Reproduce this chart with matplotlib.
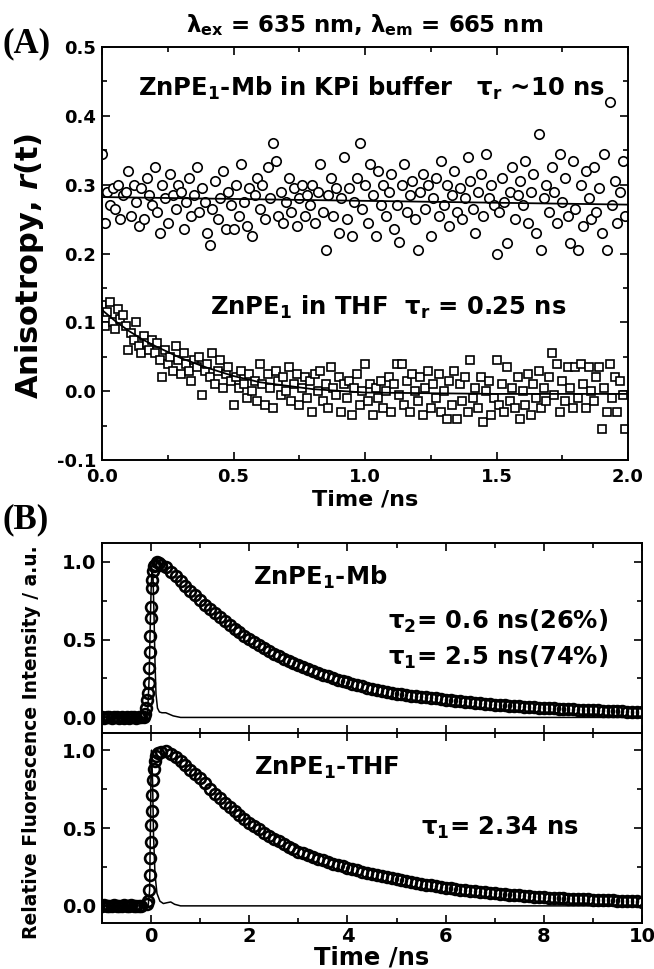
import numpy as np
import matplotlib
matplotlib.use("Agg")
import matplotlib.pyplot as plt
from matplotlib.ticker import MultipleLocator

plt.rcParams['font.family'] = ['DejaVu Sans']
plt.rcParams['font.weight'] = 'bold'
plt.rcParams['mathtext.fontset'] = 'custom'
plt.rcParams['mathtext.bf'] = 'DejaVu Sans:bold'
plt.rcParams['mathtext.rm'] = 'DejaVu Sans:bold'
plt.rcParams['mathtext.it'] = 'DejaVu Sans:bold:italic'
plt.rcParams['mathtext.default'] = 'bf'

# -----------------------------
# Panel A: anisotropy data (t = 0 .. 1.99 ns, 0.01 ns step)
# -----------------------------
aniso_mb = [
    0.345, 0.245, 0.290, 0.270, 0.295, 0.265, 0.300, 0.250, 0.285, 0.290,
    0.320, 0.255, 0.300, 0.275, 0.240, 0.295, 0.250, 0.310, 0.285, 0.270,
    0.325, 0.260, 0.230, 0.300, 0.280, 0.245, 0.315, 0.285, 0.265, 0.300,
    0.290, 0.235, 0.275, 0.310, 0.255, 0.285, 0.325, 0.260, 0.295, 0.275,
    0.230, 0.212, 0.265, 0.305, 0.250, 0.280, 0.320, 0.235, 0.290, 0.270,
    0.235, 0.300, 0.255, 0.330, 0.275, 0.240, 0.295, 0.225, 0.285, 0.310,
    0.265, 0.300, 0.250, 0.325, 0.280, 0.360, 0.335, 0.255, 0.290, 0.245,
    0.275, 0.310, 0.260, 0.295, 0.240, 0.280, 0.300, 0.255, 0.285, 0.270,
    0.300, 0.245, 0.290, 0.330, 0.260, 0.205, 0.285, 0.310, 0.255, 0.295,
    0.230, 0.280, 0.340, 0.250, 0.295, 0.225, 0.275, 0.310, 0.360, 0.265,
    0.300, 0.245, 0.330, 0.285, 0.225, 0.320, 0.270, 0.300, 0.255, 0.290,
    0.315, 0.235, 0.270, 0.216, 0.300, 0.330, 0.260, 0.285, 0.305, 0.250,
    0.205, 0.290, 0.315, 0.265, 0.300, 0.225, 0.280, 0.310, 0.255, 0.335,
    0.270, 0.300, 0.240, 0.285, 0.320, 0.260, 0.295, 0.250, 0.280, 0.340,
    0.305, 0.265, 0.230, 0.290, 0.315, 0.255, 0.345, 0.280, 0.300, 0.270,
    0.200, 0.260, 0.310, 0.275, 0.215, 0.290, 0.325, 0.250, 0.285, 0.305,
    0.270, 0.335, 0.245, 0.290, 0.315, 0.230, 0.374, 0.205, 0.280, 0.300,
    0.260, 0.325, 0.290, 0.245, 0.345, 0.275, 0.310, 0.255, 0.215, 0.335,
    0.265, 0.205, 0.300, 0.240, 0.320, 0.280, 0.250, 0.325, 0.260, 0.295,
    0.230, 0.345, 0.205, 0.420, 0.270, 0.305, 0.245, 0.290, 0.335, 0.255,
]
aniso_thf = [
    0.125, 0.095, 0.115, 0.130, 0.100, 0.090, 0.120, 0.105, 0.110, 0.095,
    0.060, 0.085, 0.075, 0.100, 0.065, 0.055, 0.080, 0.070, 0.060, 0.075,
    0.055, 0.070, 0.045, 0.020, 0.060, 0.040, 0.050, 0.030, 0.065, 0.045,
    0.025, 0.055, 0.040, 0.030, 0.015, 0.045, 0.035, 0.050, -0.005, 0.030,
    0.040, 0.020, 0.055, 0.010, 0.030, 0.045, 0.005, 0.025, 0.035, 0.015,
    -0.020, 0.020, 0.005, 0.030, 0.010, -0.010, 0.025, 0.000, 0.015, -0.015,
    0.040, 0.010, -0.020, 0.025, 0.005, -0.025, 0.030, 0.015, -0.005, 0.020,
    0.000, 0.035, -0.015, 0.010, 0.025, -0.020, 0.005, 0.020, -0.010, 0.015,
    -0.030, 0.025, 0.000, 0.030, -0.015, 0.010, -0.025, 0.035, 0.005, -0.005,
    0.020, -0.030, 0.010, -0.010, 0.015, -0.035, 0.005, 0.025, -0.020, 0.000,
    0.040, -0.015, 0.010, -0.035, 0.005, -0.010, 0.015, -0.025, 0.000, 0.020,
    -0.030, 0.010, 0.040, -0.005, 0.040, -0.020, 0.015, -0.030, 0.025, 0.000,
    -0.015, 0.020, -0.035, 0.005, 0.030, -0.025, 0.010, -0.010, 0.025, -0.030,
    0.000, -0.040, 0.015, -0.020, 0.030, -0.040, 0.010, -0.015, 0.020, -0.030,
    0.045, -0.010, 0.005, -0.025, 0.020, -0.045, 0.000, 0.015, -0.035, -0.010,
    0.045, -0.020, 0.010, -0.030, 0.035, -0.015, 0.005, -0.025, 0.020, -0.040,
    0.000, -0.020, 0.025, -0.035, 0.010, -0.010, 0.030, -0.025, 0.005, -0.015,
    0.020, 0.055, -0.005, 0.040, -0.030, 0.015, -0.015, 0.035, 0.005, -0.025,
    0.035, -0.010, 0.040, 0.010, -0.025, 0.035, 0.000, -0.015, 0.020, 0.035,
    -0.055, 0.005, -0.030, 0.040, -0.010, 0.020, -0.030, 0.015, -0.005, -0.055,
]
t_aniso = np.arange(len(aniso_mb)) * 0.01

# fitted curves, panel A
fit_mb_t = [0.0, 2.0]
fit_mb_r = [0.282, 0.271]
fit_thf_t = [0.0, 0.05, 0.1, 0.15, 0.2, 0.3, 0.4, 0.5, 0.6, 0.8, 1.0, 1.5, 2.0]
fit_thf_r = [0.118, 0.102, 0.088, 0.076, 0.066, 0.048, 0.034, 0.022, 0.013, 0.003, -0.002, -0.004, -0.004]

# -----------------------------
# Panel B: fluorescence decays
# -----------------------------
base_vals_mb = [0.004, -0.003, 0.002, 0.000, -0.004, 0.003, 0.001, -0.002, 0.004,
                -0.001, 0.002, -0.003, 0.000, 0.003, -0.002, 0.001, 0.002]
base_vals_thf = [-0.002, 0.003, 0.000, -0.004, 0.002, 0.004, -0.001, 0.001, -0.003,
                 0.003, 0.000, -0.002, 0.004, -0.001, 0.002, -0.003, 0.001]
t_base = np.arange(len(base_vals_mb)) * 0.05 - 1.0

rise_t_mb = [-0.15, -0.12, -0.10, -0.08, -0.06, -0.05, -0.04, -0.03, -0.02, -0.01,
             0.0, 0.01, 0.02, 0.03, 0.05, 0.08, 0.12, 0.16]
rise_mb = [0.005, 0.02, 0.06, 0.11, 0.16, 0.22, 0.32, 0.42, 0.52, 0.64,
           0.71, 0.83, 0.88, 0.94, 0.97, 0.98, 1.0, 0.99]
rise_t_thf = [-0.08, -0.06, -0.04, -0.03, -0.02, -0.01, 0.0, 0.01, 0.02, 0.03,
              0.05, 0.07, 0.10, 0.14]
rise_thf = [0.01, 0.03, 0.10, 0.20, 0.31, 0.41, 0.52, 0.61, 0.71, 0.81,
            0.88, 0.93, 0.96, 0.98]

# decay part, t = 0.2 .. 10.0 ns, 0.1 ns step
decay_mb = [
    0.980, 0.965, 0.935, 0.905, 0.875, 0.845, 0.815, 0.783, 0.752,
    0.722, 0.695, 0.668, 0.642, 0.617, 0.593, 0.570, 0.547, 0.525, 0.503,
    0.483, 0.463, 0.445, 0.427, 0.410, 0.394, 0.378, 0.363, 0.349, 0.335,
    0.322, 0.309, 0.297, 0.285, 0.274, 0.263, 0.253, 0.243, 0.234, 0.225,
    0.216, 0.208, 0.200, 0.192, 0.185, 0.178, 0.171, 0.164, 0.158, 0.152,
    0.148, 0.144, 0.140, 0.136, 0.132, 0.129, 0.125, 0.122, 0.118, 0.115,
    0.111, 0.108, 0.104, 0.101, 0.098, 0.095, 0.092, 0.089, 0.086, 0.083,
    0.081, 0.078, 0.076, 0.074, 0.072, 0.070, 0.067, 0.065, 0.063, 0.061,
    0.059, 0.058, 0.056, 0.055, 0.053, 0.052, 0.050, 0.049, 0.047, 0.046,
    0.045, 0.044, 0.043, 0.041, 0.040, 0.039, 0.038, 0.037, 0.036, 0.035,
]
decay_thf = [
    0.990, 0.995, 0.975, 0.955, 0.930, 0.905, 0.875, 0.848, 0.820,
    0.786, 0.753, 0.721, 0.691, 0.662, 0.635, 0.608, 0.583, 0.558, 0.535,
    0.513, 0.491, 0.471, 0.451, 0.432, 0.414, 0.397, 0.380, 0.364, 0.349,
    0.337, 0.325, 0.314, 0.303, 0.292, 0.282, 0.272, 0.263, 0.254, 0.245,
    0.236, 0.228, 0.220, 0.212, 0.204, 0.197, 0.190, 0.183, 0.176, 0.170,
    0.164, 0.158, 0.152, 0.146, 0.141, 0.136, 0.131, 0.126, 0.121, 0.117,
    0.113, 0.109, 0.105, 0.101, 0.097, 0.094, 0.090, 0.087, 0.083, 0.080,
    0.077, 0.074, 0.072, 0.069, 0.067, 0.064, 0.062, 0.060, 0.057, 0.055,
    0.053, 0.052, 0.050, 0.049, 0.047, 0.046, 0.044, 0.043, 0.041, 0.040,
    0.039, 0.038, 0.036, 0.035, 0.034, 0.033, 0.032, 0.031, 0.029, 0.028,
]
t_decay = 0.2 + np.arange(len(decay_mb)) * 0.1

# instrument response (thin line)
irf_t_mb = [-1.0, -0.10, -0.07, -0.04, -0.02, 0.0, 0.02, 0.04, 0.06, 0.08, 0.10,
            0.13, 0.17, 0.22, 0.30, 0.36, 0.45, 0.60, 10.0]
irf_mb = [0, 0, 0.03, 0.25, 0.55, 0.82, 0.95, 0.90, 0.65, 0.35, 0.15,
          0.06, 0.035, 0.03, 0.03, 0.022, 0.01, 0.0, 0.0]
irf_t_thf = [-1.0, -0.06, -0.03, -0.01, 0.0, 0.01, 0.03, 0.05, 0.08, 0.12, 0.18,
             0.25, 0.32, 0.40, 0.48, 0.60, 10.0]
irf_thf = [0, 0, 0.1, 0.6, 0.95, 1.0, 0.8, 0.45, 0.2, 0.08, 0.03,
           0.015, 0.02, 0.025, 0.01, 0.0, 0.0]

# -----------------------------
# Figure
# -----------------------------
fig = plt.figure(figsize=(6.54, 9.69), dpi=100)
W, H = 654, 969


def frac(x0, y0, x1, y1):
    return [x0 / W, 1 - y1 / H, (x1 - x0) / W, (y1 - y0) / H]


def style_axes(ax, size, pad):
    for s in ax.spines.values():
        s.set_linewidth(1.4)
    ax.tick_params(which='both', direction='in', top=True, right=True,
                   width=1.2, labelsize=size, pad=pad)
    ax.tick_params(which='major', length=6)
    ax.tick_params(which='minor', length=3.5)
    for lab in ax.get_xticklabels() + ax.get_yticklabels():
        lab.set_fontweight('bold')


# Panel A
axA = fig.add_axes(frac(102, 47, 628, 460))
axA.plot(t_aniso, aniso_mb, 'o', ms=6.8, mfc='white', mec='black', mew=1.2, zorder=2)
axA.plot(t_aniso, aniso_thf, 's', ms=6.3, mfc='white', mec='black', mew=1.2, zorder=2)
axA.plot(fit_mb_t, fit_mb_r, color='black', lw=1.3, zorder=3)
axA.plot(fit_thf_t, fit_thf_r, color='black', lw=1.3, zorder=3)
axA.set_xlim(0, 2.0)
axA.set_ylim(-0.1, 0.5)
axA.xaxis.set_major_locator(MultipleLocator(0.5))
axA.xaxis.set_minor_locator(MultipleLocator(0.25))
axA.set_yticks([-0.1, 0.0, 0.1, 0.2, 0.3, 0.4, 0.5])
axA.set_yticklabels(['-0.1', '0.0', '0.1', '0.2', '0.3', '0.4', '0.5'])
axA.yaxis.set_minor_locator(MultipleLocator(0.05))
style_axes(axA, 13, 4)
axA.tick_params(axis='x', pad=6)
axA.set_xlabel('Time /ns', fontsize=16, fontweight='bold', va='center')
axA.xaxis.set_label_coords(0.5, -0.095)
axA.set_ylabel('Anisotropy, $\\mathit{r}$(t)', fontsize=22, fontweight='bold', va='center')
axA.yaxis.set_label_coords(-0.137, 0.47)
axA.text(0.135, 0.44, 'ZnPE$_1$-Mb in KPi buffer   $\\tau_r$ ~10 ns', fontsize=17.5,
         fontweight='bold', va='center', ha='left')
axA.text(0.41, 0.122, 'ZnPE$_1$ in THF  $\\tau_r$ = 0.25 ns', fontsize=17.5,
         fontweight='bold', va='center', ha='left')
fig.text(365 / W, 1 - 25 / H, '$\\lambda_{ex}$ = 635 nm, $\\lambda_{em}$ = 665 nm',
         fontsize=16.5, fontweight='bold', ha='center', va='center')
fig.text(3 / W, 1 - 44 / H, '(A)', fontsize=25, fontweight='bold',
         family='Liberation Serif', ha='left', va='center')
fig.text(3 / W, 1 - 520 / H, '(B)', fontsize=25, fontweight='bold',
         family='Liberation Serif', ha='left', va='center')

# Panel B
axB1 = fig.add_axes(frac(102, 543, 642, 733))
axB2 = fig.add_axes(frac(102, 733, 642, 923), sharex=axB1)

panels = [
    (axB1, base_vals_mb, rise_t_mb, rise_mb, decay_mb, irf_t_mb, irf_mb, (-0.1, 1.12)),
    (axB2, base_vals_thf, rise_t_thf, rise_thf, decay_thf, irf_t_thf, irf_thf, (-0.11, 1.11)),
]
for ax, base, rt, rv, dec, it, iv, yl in panels:
    mk = dict(ls='none', marker='o', ms=7.8, mfc='none', mec='black', mew=1.9)
    ax.plot(t_base, base, **mk)
    ax.plot(rt, rv, **mk)
    ax.plot(t_decay, dec, **mk)
    ax.plot(it, iv, color='black', lw=1.1)
    ax.set_xlim(-1, 10)
    ax.set_ylim(*yl)
    ax.xaxis.set_major_locator(MultipleLocator(2))
    ax.xaxis.set_minor_locator(MultipleLocator(1))
    ax.set_yticks([0.0, 0.5, 1.0])
    ax.set_yticklabels(['0.0', '0.5', '1.0'])
    ax.yaxis.set_minor_locator(MultipleLocator(0.25))
    style_axes(ax, 14, 4)

plt.setp(axB1.get_xticklabels(), visible=False)
axB2.tick_params(axis='x', pad=3)
axB2.set_xlabel('Time /ns', fontsize=17.5, fontweight='bold', va='center')
axB2.xaxis.set_label_coords(0.5, -0.18)
fig.text(32 / W, 1 - 742 / H, 'Relative Fluorescence Intensity / a.u.', rotation=90,
         fontsize=13.5, fontweight='bold', ha='center', va='center')

axB1.text(2.07, 0.90, 'ZnPE$_1$-Mb', fontsize=17.5, fontweight='bold', va='center', ha='left')
axB1.text(4.83, 0.615, '$\\tau_2$= 0.6 ns(26%)', fontsize=17.5, fontweight='bold',
          va='center', ha='left')
axB1.text(4.83, 0.385, '$\\tau_1$= 2.5 ns(74%)', fontsize=17.5, fontweight='bold',
          va='center', ha='left')
axB2.text(2.09, 0.885, 'ZnPE$_1$-THF', fontsize=17.5, fontweight='bold', va='center', ha='left')
axB2.text(5.5, 0.50, '$\\tau_1$= 2.34 ns', fontsize=17.5, fontweight='bold',
          va='center', ha='left')

fig.savefig('out.png', dpi=100)
